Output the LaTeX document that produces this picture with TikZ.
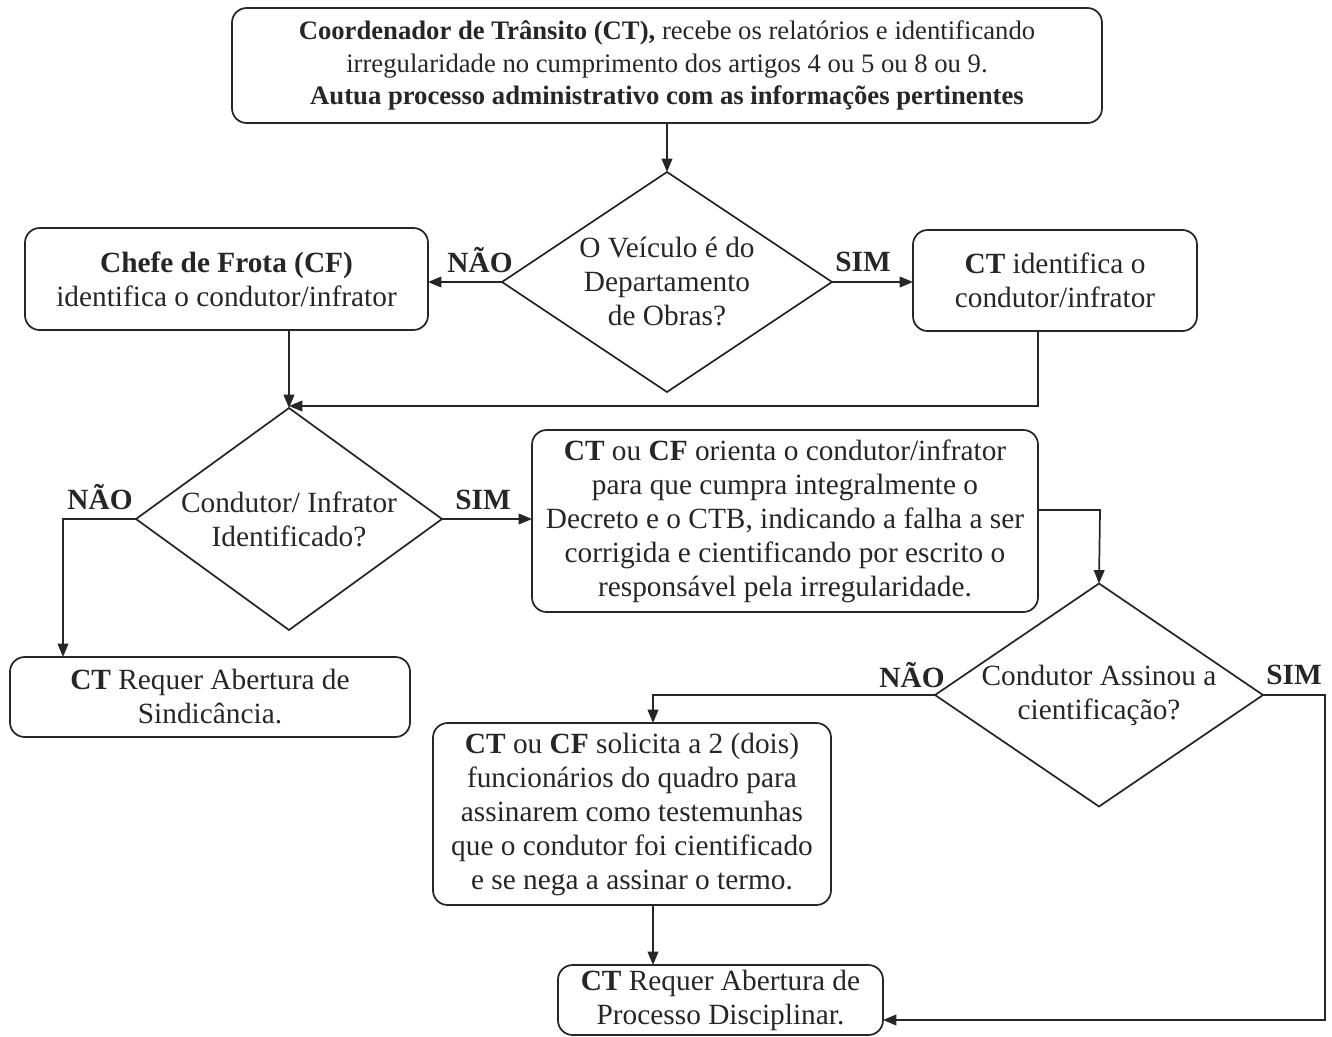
\documentclass[tikz,border=0pt]{standalone}
\usepackage{fontspec}
\setmainfont{Liberation Serif}
\usetikzlibrary{shapes.geometric,arrows.meta}
\definecolor{ink}{HTML}{262626}
\begin{document}
\begin{tikzpicture}[x=0.75pt,y=-0.75pt,
  box/.style={draw=ink, line width=1.3pt, rounded corners=11pt, align=center, inner sep=0pt, outer sep=0pt, text=ink, font=\fontsize{22}{25.5}\selectfont},
  dia/.style={draw=ink, line width=1.3pt, diamond, aspect=1.5, inner sep=0pt, outer sep=0pt, align=center, text=ink, font=\fontsize{22}{25.5}\selectfont},
  lbl/.style={text=ink, inner sep=0pt, font=\bfseries\fontsize{22}{25}\selectfont},
  arr/.style={draw=ink, line width=1.3pt, -{Triangle[length=10pt,width=8pt]}},
]
\useasboundingbox (0,0) rectangle (1332,1036);

\node[box, minimum width=870*0.75pt, minimum height=115*0.75pt, font=\fontsize{20}{24.5}\selectfont] (top) at (667,65.5)
  {\textbf{Coordenador de Trânsito (CT),} recebe os relatórios e identificando\\
   irregularidade no cumprimento dos artigos 4 ou 5 ou 8 ou 9.\\
   \textbf{Autua processo administrativo com as informações pertinentes}};

\node[dia, minimum width=330*0.75pt, minimum height=220*0.75pt] (d1) at (667,282)
  {O Veículo é do\\Departamento\\de Obras?};

\node[box, minimum width=403*0.75pt, minimum height=102*0.75pt] (cf) at (226.5,279)
  {\textbf{Chefe de Frota (CF)}\\identifica o condutor/infrator};

\node[box, minimum width=284*0.75pt, minimum height=101*0.75pt] (cti) at (1055,280.5)
  {\textbf{CT} identifica o\\condutor/infrator};

\node[dia, minimum width=306*0.75pt, minimum height=222*0.75pt] (d2) at (289,519)
  {Condutor/ Infrator\\Identificado?};

\node[box, minimum width=400*0.75pt, minimum height=80*0.75pt] (sind) at (210,697)
  {\textbf{CT} Requer Abertura de\\Sindicância.};

\node[box, minimum width=506*0.75pt, minimum height=182*0.75pt] (ori) at (785,521)
  {\textbf{CT} ou \textbf{CF} orienta o condutor/infrator\\
   para que cumpra integralmente o\\
   Decreto e o CTB, indicando a falha a ser\\
   corrigida e cientificando por escrito o\\
   responsável pela irregularidade.};

\node[dia, minimum width=328*0.75pt, minimum height=223*0.75pt] (d3) at (1099,695)
  {Condutor Assinou a\\cientificação?};

\node[box, minimum width=398*0.75pt, minimum height=182*0.75pt] (sol) at (632,814)
  {\textbf{CT} ou \textbf{CF} solicita a 2 (dois)\\
   funcionários do quadro para\\
   assinarem como testemunhas\\
   que o condutor foi cientificado\\
   e se nega a assinar o termo.};

\node[box, minimum width=325*0.75pt, minimum height=70*0.75pt] (proc) at (720.5,1000)
  {\textbf{CT} Requer Abertura de\\Processo Disciplinar.};

% labels
\node[lbl] (l1) at (480,260) {NÃO};
\node[lbl] (l2) at (863,262) {SIM};
\node[lbl] (l3) at (100,497) {NÃO};
\node[lbl] (l4) at (483,500) {SIM};
\node[lbl] (l5) at (912,675) {NÃO};
\node[lbl] (l6) at (1294,675) {SIM};

% bend coordinates
\coordinate (kct) at (1038,406);
\coordinate (k1) at (63,519);
\coordinate (k2) at (1100,510);
\coordinate (k3) at (653,695);
\coordinate (k4) at (1325,1020);

% connectors
\draw[arr] (top.south) -- (d1.north);
\draw[arr] (d1.west) -- (d1.west -| cf.east);
\draw[arr] (d1.east) -- (d1.east -| cti.west);
\draw[arr] (d2.north |- cf.south) -- (d2.north);
\draw[arr] (kct |- cti.south) -- (kct) -- (kct -| d2.north);
\draw[arr] (d2.west) -- (k1) -- (k1 |- sind.north);
\draw[arr] (d2.east) -- (d2.east -| ori.west);
\draw[arr] (k2 -| ori.east) -- (k2) -- (d3.north);
\draw[arr] (d3.west) -- (k3) -- (k3 |- sol.north);
\draw[arr] (k3 |- sol.south) -- (k3 |- proc.north);
\draw[arr] (d3.east) -| (k4) -- (k4 -| proc.east);
\end{tikzpicture}
\end{document}
